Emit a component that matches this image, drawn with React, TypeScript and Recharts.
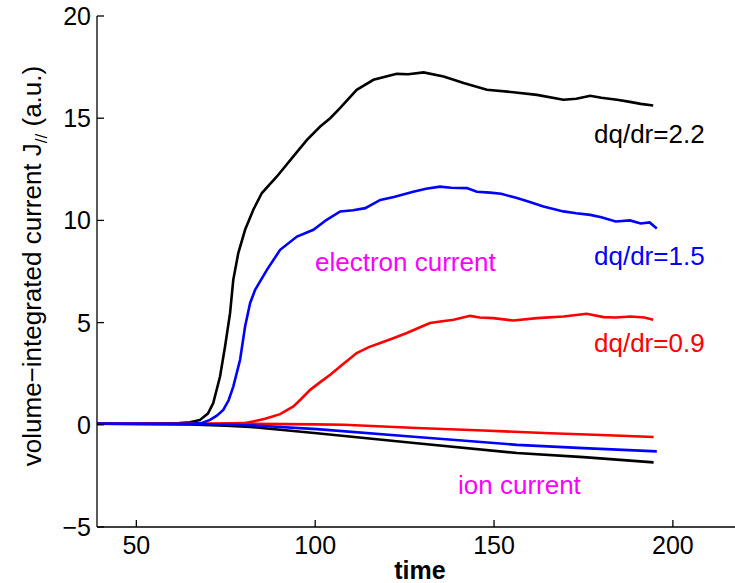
import React from "react";
import { LineChart, Line, XAxis, YAxis } from "recharts";

// electron current, dq/dr = 2.2 (black)
const elecTime22 = [39, 55, 62, 65, 67.8, 70, 71.5, 73.4, 74.8, 76.2, 77.1, 78.5, 80.4, 82.7, 85.1, 89.3, 93.9, 97.7, 101.4, 104.2, 107, 111.6, 116.3, 122.8, 126, 130.3, 135.9, 141.5, 148, 155.4, 162, 169.4, 173, 176.9, 180, 184.4, 188, 191, 194.5];
const elecVal22 = [0.05, 0.05, 0.08, 0.12, 0.24, 0.55, 1.06, 2.36, 3.83, 5.46, 7.09, 8.4, 9.54, 10.52, 11.34, 12.15, 13.13, 13.94, 14.59, 15.0, 15.5, 16.39, 16.88, 17.17, 17.15, 17.24, 17.04, 16.72, 16.39, 16.27, 16.14, 15.9, 15.95, 16.1, 16.0, 15.9, 15.8, 15.7, 15.62];

// electron current, dq/dr = 1.5 (blue)
const elecTime15 = [39, 55, 66, 68.5, 70.6, 72.5, 74.3, 75.8, 77.1, 79, 80.4, 81.8, 83.2, 86.5, 90.2, 94.9, 99.5, 103.2, 107, 110.6, 114, 118.2, 122, 127.4, 131, 134.9, 138, 142.4, 145.2, 148.9, 152, 156.4, 160, 163.8, 169.4, 173, 176.9, 180, 184, 188, 191, 193.5, 195.5];
const elecVal15 = [0.05, 0.05, 0.06, 0.1, 0.24, 0.45, 0.73, 1.2, 1.87, 3.18, 4.81, 5.95, 6.6, 7.58, 8.56, 9.21, 9.54, 10.03, 10.44, 10.5, 10.6, 11.0, 11.15, 11.4, 11.55, 11.65, 11.6, 11.58, 11.4, 11.36, 11.3, 11.09, 10.9, 10.68, 10.44, 10.35, 10.27, 10.15, 9.95, 10.0, 9.85, 9.9, 9.6];

// electron current, dq/dr = 0.9 (red)
const elecTime09 = [39, 70, 80, 82.6, 86, 90.2, 93.9, 96, 98.6, 101.5, 104.2, 108, 111.6, 115, 118.2, 122, 125.6, 129, 132.1, 135, 138.7, 143.3, 146, 149.8, 155.4, 162, 169.4, 175.9, 180.6, 184, 188.1, 192, 194.5];
const elecVal09 = [0.05, 0.05, 0.08, 0.16, 0.3, 0.52, 0.9, 1.25, 1.71, 2.1, 2.45, 3.0, 3.51, 3.8, 4.0, 4.25, 4.49, 4.75, 4.98, 5.05, 5.14, 5.33, 5.25, 5.22, 5.1, 5.22, 5.3, 5.43, 5.27, 5.25, 5.3, 5.25, 5.14];

// ion currents
const ionTime22 = [39, 65, 75, 81.8, 100.5, 128.4, 156.4, 175, 194.6];
const ionVal22 = [0.05, 0.02, -0.05, -0.1, -0.41, -0.9, -1.38, -1.58, -1.84];
const ionTime15 = [39, 70, 81.8, 100.5, 128.4, 156.4, 175, 195.5];
const ionVal15 = [0.05, 0.03, -0.02, -0.21, -0.6, -0.98, -1.14, -1.3];
const ionTime09 = [39, 80, 100, 108, 128.4, 147, 165.7, 180, 194.6];
const ionVal09 = [0.05, 0.05, 0.02, 0, -0.16, -0.28, -0.41, -0.5, -0.6];

const xTicks = [50, 100, 150, 200];
const yTicks = [-5, 0, 5, 10, 15, 20];

const FONT = '"Liberation Sans", Arial, Helvetica, sans-serif';

const toPoints = (ts: number[], vs: number[]) => ts.map((t, i) => ({ t, v: vs[i] }));

const fmt = (v: number) => (v < 0 ? `\u2212${-v}` : `${v}`);

function LeftTick({ x, y, payload }: any) {
  return (
    <g>
      <line x1={x} x2={x + 7} y1={y} y2={y} stroke="#000" strokeWidth={1.3} />
      <text x={x - 6} y={y + 9} textAnchor="end" fontSize={25} fontFamily={FONT} fill="#000">
        {fmt(payload.value)}
      </text>
    </g>
  );
}

function BottomTick({ x, y, payload }: any) {
  return (
    <g>
      <line x1={x} x2={x} y1={y} y2={y - 7} stroke="#000" strokeWidth={1.3} />
      <text x={x} y={y + 27} textAnchor="middle" fontSize={25} fontFamily={FONT} fill="#000">
        {fmt(payload.value)}
      </text>
    </g>
  );
}

function TopTick({ x, y }: any) {
  return <line x1={x} x2={x} y1={y} y2={y + 7} stroke="#000" strokeWidth={1.3} />;
}

const series = [
  { key: "e22", data: toPoints(elecTime22, elecVal22), color: "#000000" },
  { key: "i22", data: toPoints(ionTime22, ionVal22), color: "#000000" },
  { key: "e09", data: toPoints(elecTime09, elecVal09), color: "#ff0000" },
  { key: "i09", data: toPoints(ionTime09, ionVal09), color: "#ff0000" },
  { key: "e15", data: toPoints(elecTime15, elecVal15), color: "#0000ff" },
  { key: "i15", data: toPoints(ionTime15, ionVal15), color: "#0000ff" },
];

export default function App() {
  return (
    <div
      style={{
        position: "fixed",
        left: 0,
        top: 0,
        width: 735,
        height: 583,
        overflow: "hidden",
        background: "#fff",
      }}
    >
      <LineChart width={760} height={583} margin={{ top: 16, right: 12, bottom: 26, left: 37 }}>
        <XAxis
          xAxisId="bottom"
          type="number"
          dataKey="t"
          domain={[39, 221]}
          ticks={xTicks}
          allowDataOverflow
          height={30}
          tickSize={0}
          tickMargin={0}
          tickLine={false}
          axisLine={{ stroke: "#000", strokeWidth: 1.3 }}
          tick={<BottomTick />}
        />
        <XAxis
          xAxisId="top"
          orientation="top"
          type="number"
          dataKey="t"
          domain={[39, 221]}
          ticks={xTicks}
          allowDataOverflow
          height={0}
          tickSize={0}
          tickMargin={0}
          tickLine={false}
          axisLine={{ stroke: "#000", strokeWidth: 1.3 }}
          tick={<TopTick />}
        />
        <YAxis
          type="number"
          domain={[-5, 20]}
          ticks={yTicks}
          allowDataOverflow
          width={60}
          tickSize={0}
          tickMargin={0}
          tickLine={false}
          axisLine={{ stroke: "#000", strokeWidth: 1.3 }}
          tick={<LeftTick />}
        />
        {series.map((s) => (
          <Line
            key={s.key}
            xAxisId="bottom"
            data={s.data}
            dataKey="v"
            type="linear"
            stroke={s.color}
            strokeWidth={2.6}
            dot={false}
            activeDot={false}
            isAnimationActive={false}
          />
        ))}
      </LineChart>
      <svg
        width={735}
        height={583}
        style={{ position: "absolute", left: 0, top: 0, pointerEvents: "none" }}
        fontFamily={FONT}
        fontSize={26}
      >
        <text transform="translate(41,266) rotate(-90)" textAnchor="middle" fill="#000">
          volume{"\u2212"}integrated current J
          <tspan fontSize={17} dy={6}>//</tspan>
          <tspan dy={-6}> (a.u.)</tspan>
        </text>
        <text x={420} y={579} textAnchor="middle" fontWeight="bold" fontSize={25} fill="#000">
          time
        </text>
        <text x={594} y={143} fill="#000000">dq/dr=2.2</text>
        <text x={594} y={265} fill="#0000ff">dq/dr=1.5</text>
        <text x={594} y={352} fill="#ff0000">dq/dr=0.9</text>
        <text x={315} y={271} fill="#ff00ff">electron current</text>
        <text x={458} y={494} fill="#ff00ff">ion current</text>
      </svg>
    </div>
  );
}
